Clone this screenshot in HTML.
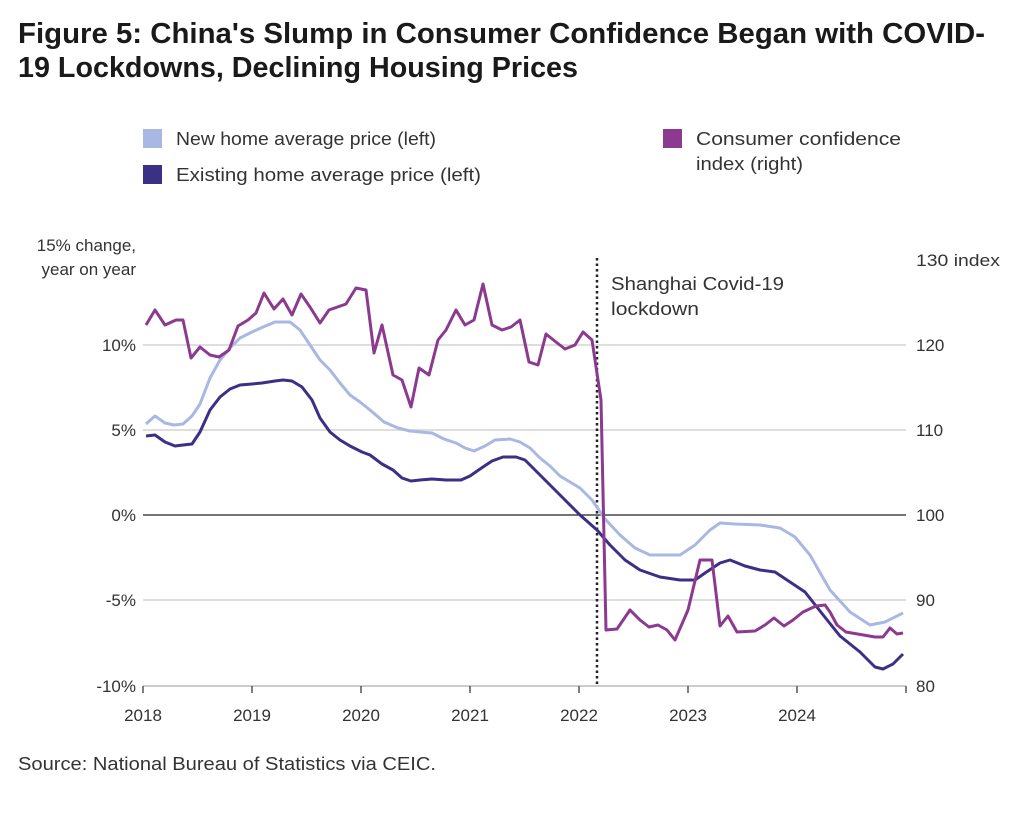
<!DOCTYPE html>
<html><head><meta charset="utf-8"><style>
body{margin:0;background:#fff;width:1024px;height:808px;overflow:hidden;font-family:"Liberation Sans",sans-serif;color:#222}
</style></head><body>
<svg width="1024" height="808" xmlns="http://www.w3.org/2000/svg" font-family="Liberation Sans, sans-serif">
<text x="18" y="43" font-size="29" font-weight="bold" fill="#1a1a1a" textLength="967" lengthAdjust="spacingAndGlyphs">Figure 5: China's Slump in Consumer Confidence Began with COVID-</text>
<text x="18" y="77" font-size="29" font-weight="bold" fill="#1a1a1a" textLength="560" lengthAdjust="spacingAndGlyphs">19 Lockdowns, Declining Housing Prices</text>
<rect x="143" y="129" width="19" height="19" fill="#a9b8e3"/>
<text x="176" y="145" font-size="18" fill="#333" textLength="260" lengthAdjust="spacingAndGlyphs">New home average price (left)</text>
<rect x="143" y="165" width="19" height="19" fill="#3b2f86"/>
<text x="176" y="181" font-size="18" fill="#333" textLength="305" lengthAdjust="spacingAndGlyphs">Existing home average price (left)</text>
<rect x="663" y="129" width="19" height="19" fill="#8b3a8f"/>
<text x="696" y="145" font-size="18" fill="#333" textLength="205" lengthAdjust="spacingAndGlyphs">Consumer confidence</text>
<text x="696" y="170" font-size="18" fill="#333" textLength="107" lengthAdjust="spacingAndGlyphs">index (right)</text>
<text x="136" y="251" font-size="17" fill="#333" text-anchor="end">15% change,</text>
<text x="136" y="275" font-size="17" fill="#333" text-anchor="end">year on year</text>
<text x="916" y="266" font-size="17" fill="#333" textLength="84" lengthAdjust="spacingAndGlyphs">130 index</text>
<g stroke="#d4d4d4" stroke-width="1.5">
<line x1="143" y1="345" x2="906" y2="345"/><line x1="143" y1="430" x2="906" y2="430"/><line x1="143" y1="600" x2="906" y2="600"/>
</g>
<line x1="143" y1="515" x2="906" y2="515" stroke="#222" stroke-width="1.3"/>
<line x1="143" y1="686" x2="906" y2="686" stroke="#bbb" stroke-width="1.5"/>
<g stroke="#555" stroke-width="1.5">
<line x1="143" y1="686" x2="143" y2="693"/><line x1="252" y1="686" x2="252" y2="693"/><line x1="361" y1="686" x2="361" y2="693"/><line x1="470" y1="686" x2="470" y2="693"/><line x1="579" y1="686" x2="579" y2="693"/><line x1="688" y1="686" x2="688" y2="693"/><line x1="797" y1="686" x2="797" y2="693"/><line x1="906" y1="686" x2="906" y2="693"/>
</g>
<g font-size="17" fill="#333" text-anchor="end">
<text x="136" y="351">10%</text><text x="136" y="436">5%</text><text x="136" y="521">0%</text><text x="136" y="606">-5%</text><text x="136" y="692">-10%</text>
</g>
<g font-size="17" fill="#333">
<text x="916" y="351">120</text><text x="916" y="436">110</text><text x="916" y="521">100</text><text x="916" y="606">90</text><text x="916" y="692">80</text>
</g>
<g font-size="17" fill="#333" text-anchor="middle">
<text x="143" y="721">2018</text><text x="252" y="721">2019</text><text x="361" y="721">2020</text><text x="470" y="721">2021</text><text x="579" y="721">2022</text><text x="688" y="721">2023</text><text x="797" y="721">2024</text>
</g>
<line x1="597" y1="258" x2="597" y2="686" stroke="#222" stroke-width="2.5" stroke-dasharray="2.5,3"/>
<text x="611" y="290" font-size="18" fill="#333" textLength="173" lengthAdjust="spacingAndGlyphs">Shanghai Covid-19</text>
<text x="611" y="315" font-size="18" fill="#333" textLength="88" lengthAdjust="spacingAndGlyphs">lockdown</text>
<g fill="none" stroke-width="3" stroke-linejoin="round">
<polyline stroke="#a9b8e3" points="146,424 155,416 165,423 174,425 183,424 192,416 200,404 210,378 220,360 230,348 240,338 252,332 263,327 275,322 290,322 300,330 310,345 320,360 330,370 340,383 350,395 360,402 370,410 384,422 398,428 410,431 420,432 432,433 444,439 456,443 465,448 474,451 485,446 495,440 510,439 520,442 530,448 540,458 550,466 560,476 570,482 580,488 592,500 605,519 620,535 635,548 650,555 665,555 680,555 695,545 710,530 720,523 735,524 760,525 780,528 795,537 810,555 830,590 850,612 870,625 885,622 903,613"/>
<polyline stroke="#3b2f86" points="146,436 155,435 165,442 175,446 183,445 192,444 200,432 210,410 220,397 230,389 240,385 252,384 262,383 275,381 283,380 292,381 302,387 312,400 320,418 330,432 340,440 350,446 362,452 370,455 382,464 393,470 402,478 411,481 420,480 432,479 446,480 461,480 470,476 480,469 492,461 503,457 516,457 525,460 535,470 545,480 555,490 566,501 580,515 597,530 610,545 625,560 640,570 660,577 680,580 695,580 705,573 720,563 730,560 745,566 760,570 775,572 790,582 805,592 820,611 840,636 860,652 875,667 883,669 893,664 903,654"/>
<polyline stroke="#8b3a8f" points="146,325 155,310 165,325 176,320 183,320 191,358 200,347 210,355 219,357 229,350 238,326 248,320 256,313 264,293 274,309 283,299 292,315 301,294 310,307 320,323 329,310 346,304 356,288 366,290 374,353 382,325 393,375 402,380 411,407 419,368 429,375 438,340 446,330 456,310 465,325 474,320 483,284 492,325 502,330 511,327 520,320 529,362 538,365 546,334 556,342 565,349 575,345 583,332 592,340 601,400 606,630 617,629 630,610 640,620 649,627 658,625 667,630 675,640 688,610 700,560 712,560 720,626 728,616 737,632 755,631 765,625 774,618 784,626 793,620 803,612 816,606 825,605 830,612 837,625 846,632 875,637 883,637 890,628 897,634 903,633"/>
</g>
<text x="18" y="770" font-size="18" fill="#333" textLength="418" lengthAdjust="spacingAndGlyphs">Source: National Bureau of Statistics via CEIC.</text>
</svg>
</body></html>
